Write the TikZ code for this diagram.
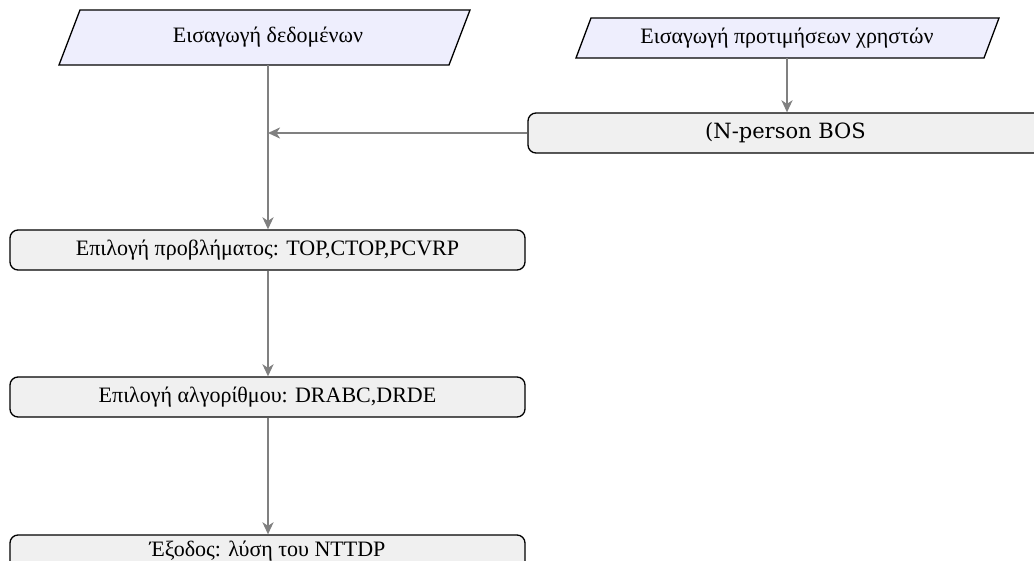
\documentclass[tikz,border=0pt]{standalone}
\usepackage{fontspec}
\setmainfont{Liberation Serif}
\newfontfamily\bosfont{DejaVu Serif}
\usetikzlibrary{arrows.meta}
\definecolor{paracol}{RGB}{238,238,253}
\definecolor{boxcol}{RGB}{240,240,240}
\definecolor{linecol}{RGB}{128,128,128}
\tikzset{
  parashape/.style={draw=black, line width=1.3pt, fill=paracol, line join=miter},
  paratext/.style={inner sep=0pt, font=\fontsize{22}{26}\selectfont},
  procbox/.style={rectangle, rounded corners=8pt, draw=black, line width=1.3pt,
    fill=boxcol, minimum width=515pt, minimum height=40pt, inner sep=0pt,
    font=\fontsize{22}{26}\selectfont},
  flow/.style={draw=linecol, line width=2.9pt},
  flowarrow/.style={flow, -{Stealth[length=12pt,width=11pt,inset=3.5pt]}}
}
\begin{document}
\begin{tikzpicture}[x=1pt,y=-1pt]
\useasboundingbox (0,0) rectangle (1034,561);
\clip (0,0) rectangle (1034,561);
% input parallelograms
\draw[parashape] (80,10) -- (470,10) -- (449,65) -- (59,65) -- cycle;
\draw[parashape] (591,18) -- (999,18) -- (984,58) -- (576,58) -- cycle;
\node[paratext, minimum width=370pt, minimum height=55pt] (in1) at (268,37.5) {Εισαγωγή δεδομένων};
\node[paratext, minimum width=380pt, minimum height=40pt] (in2) at (787,38) {Εισαγωγή προτιμήσεων χρηστών};
% process boxes
\node[procbox, font=\bosfont\fontsize{21}{25}\selectfont] (bos) at (785.5,133) {(N-person BOS};
\node[procbox] (prob) at (267.5,250) {Επιλογή προβλήματος: TOP,CTOP,PCVRP};
\node[procbox] (alg) at (267.5,397) {Επιλογή αλγορίθμου: DRABC,DRDE};
\node[procbox, text height=16pt, text depth=14pt] (out) at (267.5,555) {Έξοδος: λύση του NTTDP};
\coordinate (join) at (268,133);
% connectors
\draw[flowarrow] (in2.south) -- (bos.north -| in2.south);
\draw[flowarrow] (bos.west) -- (join);
\draw[flowarrow] (in1.south -| join) -- (prob.north -| join);
\draw[flowarrow] (prob.south -| join) -- (alg.north -| join);
\draw[flowarrow] (alg.south -| join) -- (out.north -| join);
\end{tikzpicture}
\end{document}
